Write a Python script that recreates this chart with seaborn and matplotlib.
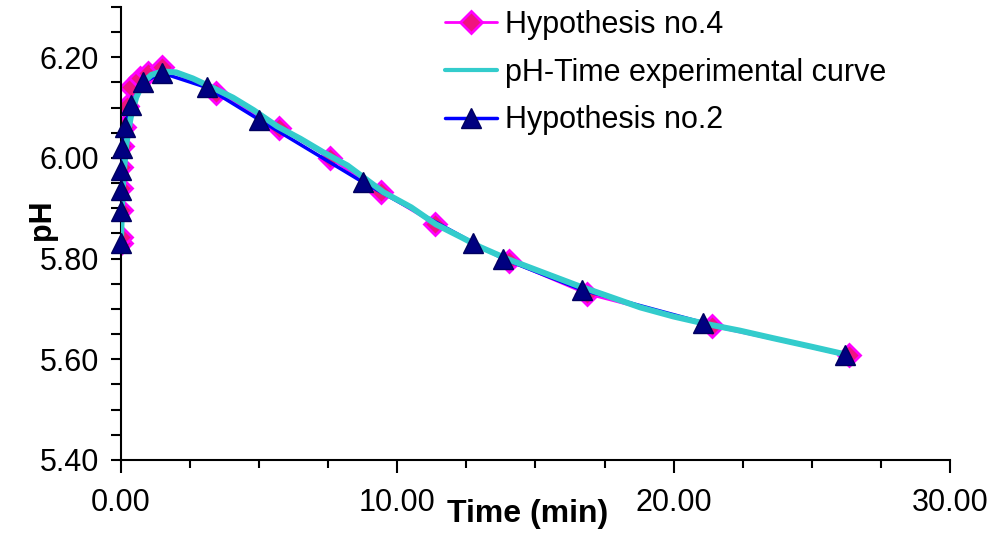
import numpy as np
import matplotlib
matplotlib.use('Agg')
import matplotlib.pyplot as plt
from matplotlib.lines import Line2D
from matplotlib.ticker import MultipleLocator, FormatStrFormatter
import seaborn as sns

# values
# Hypothesis no.4 (pink diamonds)
t_hyp4 = [0, 0, 0, 0, 0, 0.04, 0.11, 0.22, 0.36, 0.69, 0.98, 1.48,
          3.44, 5.72, 7.56, 9.41, 11.36, 14.04, 16.87, 21.39, 26.35]
ph_hyp4 = [5.831, 5.843, 5.897, 5.941, 5.982, 6.024, 6.062, 6.104, 6.140, 6.159, 6.168, 6.181,
           6.130, 6.060, 6.000, 5.933, 5.869, 5.796, 5.730, 5.666, 5.608]

# pH-Time experimental curve (cyan)
t_exp = [0, 0.02, 0.05, 0.1, 0.2, 0.35, 0.55, 0.8, 1.1, 1.5, 2.0, 2.6, 3.3, 4.05, 4.8,
         5.65, 6.5, 7.3, 8.2, 9.5, 10.5, 11.4, 12.3, 13.0, 14.0, 15.2, 16.5, 17.5,
         18.8, 20.0, 21.2, 22.4, 23.6, 25.0, 26.2]
ph_exp = [5.835, 5.87, 5.92, 5.97, 6.03, 6.08, 6.12, 6.15, 6.165, 6.172, 6.170, 6.158,
          6.140, 6.120, 6.095, 6.063, 6.038, 6.012, 5.985, 5.932, 5.902, 5.868, 5.843,
          5.823, 5.799, 5.774, 5.747, 5.728, 5.703, 5.685, 5.670, 5.657, 5.642, 5.625, 5.610]

# Hypothesis no.2 (navy triangles)
t_hyp2 = [0, 0, 0, 0, 0.04, 0.14, 0.36, 0.8, 1.48, 3.1, 5.0, 8.75, 12.74, 13.82,
          16.68, 21.06, 26.2]
ph_hyp2 = [5.831, 5.895, 5.937, 5.977, 6.020, 6.062, 6.106, 6.150, 6.169, 6.140, 6.076,
           5.952, 5.832, 5.800, 5.738, 5.673, 5.609]

sns.set_style('ticks')
plt.rcParams['font.family'] = ['Liberation Sans', 'DejaVu Sans']
plt.rcParams['text.color'] = 'black'
plt.rcParams['axes.labelcolor'] = 'black'

fig = plt.figure(figsize=(9.94, 5.35), dpi=100)
ax = fig.add_axes([0.1217, 0.1402, 0.834, 0.8468])

pink_face = '#F0147F'
magenta = '#FF00FF'
navy = '#000080'

# hypothesis 4 line + diamonds
sns.lineplot(x=t_hyp4, y=ph_hyp4, sort=False, estimator=None, ax=ax,
             color=magenta, lw=2, marker='D', markersize=11,
             markerfacecolor=pink_face, markeredgecolor=magenta, markeredgewidth=2,
             zorder=2)
# hypothesis 2 line (markers drawn later, above the cyan curve)
sns.lineplot(x=t_hyp2, y=ph_hyp2, sort=False, estimator=None, ax=ax,
             color='#0000FF', lw=2.5, zorder=3)
# experimental curve
sns.lineplot(x=t_exp, y=ph_exp, sort=False, estimator=None, ax=ax,
             color='#33CCCC', lw=4.3, zorder=4)
ax.plot(t_hyp2, ph_hyp2, ls='none', marker='^', markersize=14,
        markerfacecolor=navy, markeredgecolor='#000060', markeredgewidth=1, zorder=5,
        clip_on=False)

ax.set_xlim(0, 30)
ax.set_ylim(5.40, 6.30)
ax.xaxis.set_major_locator(MultipleLocator(10))
ax.xaxis.set_minor_locator(MultipleLocator(2.5))
ax.yaxis.set_major_locator(MultipleLocator(0.2))
ax.yaxis.set_minor_locator(MultipleLocator(0.05))
ax.xaxis.set_major_formatter(FormatStrFormatter('%.2f'))
ax.yaxis.set_major_formatter(FormatStrFormatter('%.2f'))

sns.despine(ax=ax)
for s in ['left', 'bottom']:
    ax.spines[s].set_linewidth(1.5)
    ax.spines[s].set_color('black')

ax.tick_params(axis='x', which='major', length=9, width=1.5, pad=11, labelsize=22,
               colors='black')
ax.tick_params(axis='x', which='minor', length=6, width=1.5, colors='black')
ax.tick_params(axis='y', which='both', length=7, width=1.5, pad=9, labelsize=22,
               colors='black')

ax.set_xlabel('Time (min)', fontsize=23, fontweight='bold')
ax.xaxis.set_label_coords(0.49, -0.085)
ax.set_ylabel('pH', fontsize=22, fontweight='bold')
ax.yaxis.set_label_coords(-0.077, 0.53)

handles = [
    Line2D([], [], color=magenta, lw=2, marker='D', markersize=11,
           markerfacecolor=pink_face, markeredgecolor=magenta, markeredgewidth=2),
    Line2D([], [], color='#33CCCC', lw=3),
    Line2D([], [], color='#0000FF', lw=2.5, marker='^', markersize=14,
           markerfacecolor=navy, markeredgecolor='#000060', markeredgewidth=1),
]
labels = ['Hypothesis no.4', 'pH-Time experimental curve', 'Hypothesis no.2']
ax.legend(handles, labels, loc='upper left', bbox_to_anchor=(445 / 994, 1 - 10 / 535),
          bbox_transform=fig.transFigure, frameon=False, fontsize=22,
          handlelength=1.7, handletextpad=0.26, labelspacing=0.58,
          borderpad=0, borderaxespad=0)

fig.savefig('out.png', dpi=100)
